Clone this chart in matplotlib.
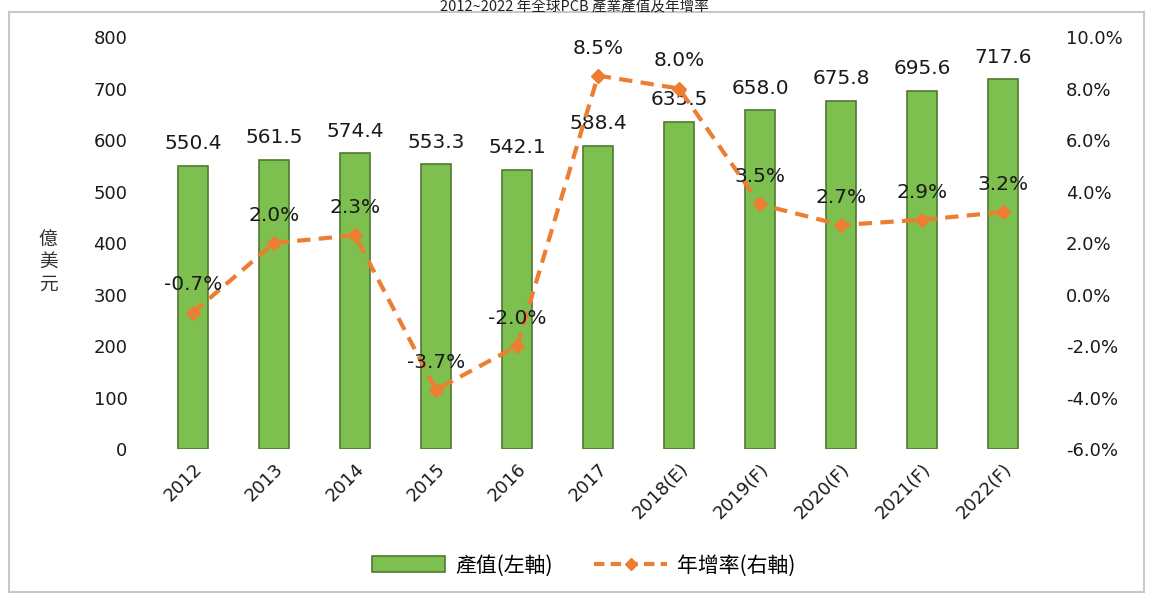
import matplotlib
matplotlib.use("Agg")
import matplotlib.pyplot as plt
from matplotlib.patches import Rectangle, Patch
from matplotlib.lines import Line2D

plt.rcParams['font.family'] = ['DejaVu Sans', 'Noto Sans CJK TC']

categories = ["2012", "2013", "2014", "2015", "2016", "2017",
              "2018(E)", "2019(F)", "2020(F)", "2021(F)", "2022(F)"]
output_values = [550.4, 561.5, 574.4, 553.3, 542.1, 588.4,
                 635.5, 658.0, 675.8, 695.6, 717.6]
growth_pct = [-0.7, 2.0, 2.3, -3.7, -2.0, 8.5, 8.0, 3.5, 2.7, 2.9, 3.2]
left_ticks = [0, 100, 200, 300, 400, 500, 600, 700, 800]
right_ticks = [-6, -4, -2, 0, 2, 4, 6, 8, 10]

title = "2012~2022 年全球PCB 產業產值及年增率"
bar_label = "產值(左軸)"
line_label = "年增率(右軸)"
y_label = "億\n美\n元"

bar_color = "#7DC04F"
bar_edge = "#4F7A31"
line_color = "#ED7D31"
text_color = "#1a1a1a"
cjk = ['Noto Sans CJK TC', 'DejaVu Sans']
num = ['DejaVu Sans']

fig = plt.figure(figsize=(11.49, 5.94), dpi=100)
ax = fig.add_axes([0.1327, 0.2441, 0.7755, 0.6936])
ax2 = ax.twinx()

x = list(range(len(categories)))
ax.bar(x, output_values, width=0.38, color=bar_color, edgecolor=bar_edge, linewidth=1.2, zorder=2)
ax.set_xlim(-0.5, len(categories) - 0.5)
ax.set_ylim(0, 800)
ax.set_yticks(left_ticks)
ax.set_yticklabels([str(t) for t in left_ticks], fontsize=13, color=text_color, family=num)
ax.set_xticks(x)
ax.set_xticklabels(categories, rotation=45, ha='right', va='top', rotation_mode='anchor',
                   fontsize=13, color=text_color, family=num)
ax.tick_params(axis='y', length=0, pad=18)
ax.tick_params(axis='x', length=0, pad=8)
for s in ax.spines.values():
    s.set_visible(False)

for xi, v in zip(x, output_values):
    ax.annotate(f"{v:.1f}", (xi, v), xytext=(0, 9), textcoords='offset points',
                ha='center', va='bottom', fontsize=14.5, color=text_color, family=num)

ax2.plot(x, growth_pct, color=line_color, linestyle=(0, (3.2, 2)), linewidth=3,
         marker='D', markersize=7, zorder=3)
ax2.set_ylim(-6, 10)
ax2.set_yticks(right_ticks)
ax2.set_yticklabels([f"{t:.1f}%" for t in right_ticks], fontsize=13, color=text_color, family=num)
ax2.tick_params(axis='y', length=0, pad=16)
for s in ax2.spines.values():
    s.set_visible(False)

for xi, v in zip(x, growth_pct):
    ax2.annotate(f"{v:.1f}%", (xi, v), xytext=(0, 13), textcoords='offset points',
                 ha='center', va='bottom', fontsize=14.5, color=text_color, family=num)

fig.text(0.042, 0.559, y_label, ha='center', va='center', fontsize=13.5,
         family=cjk, color='#333333', linespacing=1.1)

# title at the very top, as in the reference
fig.text(0.5, 0.999, title, ha='center', va='top', fontsize=10.5,
         family=cjk, color='#222222')

# frame
fig.patches.append(Rectangle((0.008, 0.003), 0.988, 0.977, transform=fig.transFigure,
                             fill=False, edgecolor='#c8c8c8', linewidth=1.5))

handles = [Patch(facecolor=bar_color, edgecolor=bar_edge, linewidth=1.2),
           Line2D([0], [0], color=line_color, linestyle=(0, (2.5, 1.5)), linewidth=3,
                  marker='D', markersize=6)]
fig.legend(handles, [bar_label, line_label], loc='center', bbox_to_anchor=(0.508, 0.048),
           ncol=2, frameon=False, prop={'family': cjk, 'size': 15},
           handlelength=3.5, handleheight=0.8, columnspacing=2.0, handletextpad=0.5)

fig.savefig("out.png", dpi=100)
